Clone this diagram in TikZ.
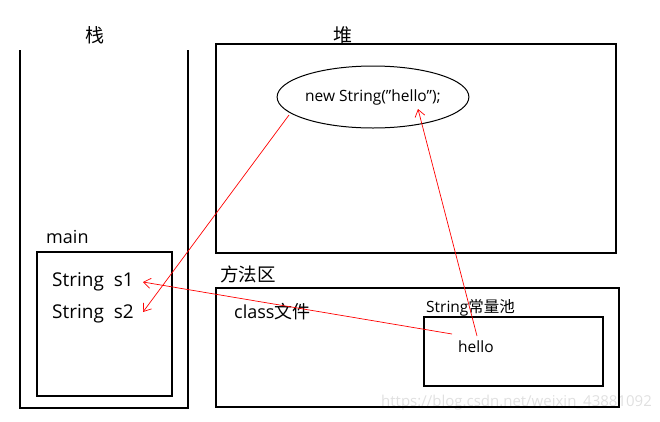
\documentclass[tikz,border=0pt]{standalone}
\usepackage{fontspec}
\setmainfont{Open Sans}
\newfontfamily\cjk{Noto Sans CJK SC}
\usetikzlibrary{arrows.meta,shapes.geometric}
\tikzset{
  box/.style={draw=black,line width=1.2pt},
  lbl/.style={inner sep=0pt,font=#1},
  ref/.style={draw=red,line width=0.7pt,-{Straight Barb[length=7pt,width=10pt,line width=0.7pt]}},
}
\begin{document}
\begin{tikzpicture}[x=1pt,y=-1pt]
\useasboundingbox (0,0) rectangle (660,421);
% watermark
\node[inner sep=0pt,anchor=west,text=black!12,font=\fontsize{15}{15}\selectfont] (wm) at (381,403) {https://blog.csdn.net/weixin\_43881092};
% stack
\draw[box] (20,50) -- (20,408) -- (188,408) -- (188,50);
\node[lbl=\cjk\fontsize{19}{19}\selectfont] (zhan) at (95,35) {栈};
\node[lbl=\fontsize{18}{18}\selectfont,anchor=west] (main) at (46,237) {main};
\draw[box] (37,252) rectangle (172,396);
\node[lbl=\fontsize{19}{19}\selectfont,anchor=west] (s1) at (52,282) {String\ \ s1};
\node[lbl=\fontsize{19}{19}\selectfont,anchor=west] (s2) at (52,314) {String\ \ s2};
% heap
\node[lbl=\cjk\fontsize{19}{19}\selectfont] (dui) at (343,35) {堆};
\draw[box] (216,44) rectangle (616,253);
\node[draw=black,line width=1pt,ellipse,minimum width=191pt,minimum height=62pt,inner sep=0pt,font=\fontsize{15.5}{15.5}\selectfont] (obj) at (373,97) {new String(\symbol{"22}hello\symbol{"22});};
% method area
\node[lbl=\cjk\fontsize{18.5}{18.5}\selectfont,anchor=west] (ff) at (220,274) {方法区};
\draw[box] (216,288) rectangle (619,407);
\node[lbl=\fontsize{18}{18}\selectfont,anchor=west] (cls) at (234,312) {class{\cjk 文件}};
\node[lbl=\fontsize{15.5}{15.5}\selectfont,anchor=west] (pool) at (426,308) {String{\cjk 常量池}};
\draw[box] (424,317) rectangle (603,386);
\node[lbl=\fontsize{15.5}{15.5}\selectfont,anchor=west] (hello) at (458,347) {hello};
% connectors
\coordinate (s1tip) at (143,282);
\coordinate (s2tip) at (143,312);
\coordinate (objtip) at (418,109);
\coordinate (objfoot) at (289,115);
\coordinate (hA) at (452,334);
\coordinate (hB) at (477,336);
\draw[ref] (objfoot) -- (s2tip);
\draw[ref] (hA) -- (s1tip);
\draw[ref] (hB) -- (objtip);
\end{tikzpicture}
\end{document}
